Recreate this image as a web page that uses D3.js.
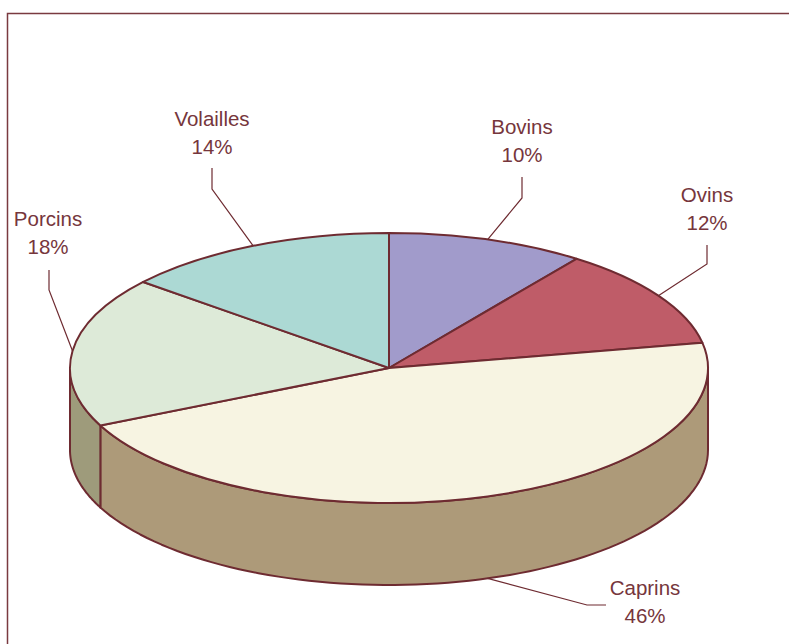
<!DOCTYPE html>
<html lang="fr">
<head>
    <meta charset="UTF-8">
    <title>Répartition du cheptel</title>
    <script src="https://d3js.org/d3.v7.min.js"></script>
    <style>
        body { margin: 0; background: #fff; }
        text { font-family: "Liberation Sans", Arial, sans-serif; font-size: 20.5px; fill: #76363c; }
    </style>
</head>
<body>
    <svg width="789" height="644"></svg>

    <script>
        // data, clockwise from 12 o'clock
        const categories = ["Bovins", "Ovins", "Caprins", "Porcins", "Volailles"];
        const shares = [10, 12, 46, 18, 14];
        const topColors = ["#a19bcb", "#bf5c68", "#f7f4e2", "#ddead8", "#acd9d4"];
        const sideColors = ["#7f7aa3", "#94434d", "#ad9a79", "#9e9b7b", "#86aaa6"];

        // label layout (text centre x, first baseline y, elbow of leader)
        const labelPos = [
            { x: 522, y: 134, elbow: [522, 198], end: [522, 177] },
            { x: 707, y: 202, elbow: [707, 264], end: [707, 245] },
            { x: 645, y: 595, elbow: [587, 605], end: [606, 605] },
            { x: 48,  y: 226, elbow: [49, 290],  end: [49, 270] },
            { x: 212, y: 126, elbow: [212, 189], end: [212, 168] }
        ];

        const svg = d3.select("svg");
        const edge = "#6e2b31";
        const cx = 389, cy = 368, rx = 319, ry = 135, depth = 82;

        // frame
        svg.append("rect")
            .attr("x", 7.5).attr("y", 13.5)
            .attr("width", 800).attr("height", 700)
            .attr("fill", "none")
            .attr("stroke", "#7a3a40")
            .attr("stroke-width", 1.5);

        const pie = d3.pie().sort(null).value(d => d)(shares);
        const ex = a => cx + rx * Math.sin(a);
        const ey = a => cy - ry * Math.cos(a);

        // side walls (only the front half is visible)
        const sides = svg.append("g");
        pie.forEach((p, i) => {
            const a0 = Math.max(p.startAngle, Math.PI / 2);
            const a1 = Math.min(p.endAngle, 3 * Math.PI / 2);
            if (a1 <= a0) return;
            const n = 80;
            const angles = d3.range(n + 1).map(k => a0 + (a1 - a0) * k / n);
            const pts = angles.map(a => [ex(a), ey(a)])
                .concat(angles.slice().reverse().map(a => [ex(a), ey(a) + depth]));
            sides.append("path")
                .attr("d", d3.line()(pts) + "Z")
                .attr("fill", sideColors[i])
                .attr("stroke", edge)
                .attr("stroke-width", 2)
                .attr("stroke-linejoin", "round");
        });

        // top face: circle arcs squashed into an ellipse
        const arc = d3.arc().innerRadius(0).outerRadius(rx);
        svg.append("g")
            .attr("transform", `translate(${cx},${cy}) scale(1,${ry / rx})`)
            .selectAll("path")
            .data(pie)
            .join("path")
            .attr("d", arc)
            .attr("fill", (d, i) => topColors[i])
            .attr("stroke", edge)
            .attr("stroke-width", 2)
            .attr("stroke-linejoin", "round")
            .attr("vector-effect", "non-scaling-stroke");

        // leader lines
        pie.forEach((p, i) => {
            const mid = (p.startAngle + p.endAngle) / 2;
            let anchor = [ex(mid), ey(mid)];
            if (Math.cos(mid) < 0) anchor[1] += depth;
            const lp = labelPos[i];
            svg.append("polyline")
                .attr("points", [anchor, lp.elbow, lp.end].map(q => q.join(",")).join(" "))
                .attr("fill", "none")
                .attr("stroke", edge)
                .attr("stroke-width", 1.2);
        });

        // labels
        const labels = svg.append("g").selectAll("text")
            .data(pie)
            .join("text")
            .attr("text-anchor", "middle")
            .attr("x", (d, i) => labelPos[i].x)
            .attr("y", (d, i) => labelPos[i].y);
        labels.append("tspan").text((d, i) => categories[i]);
        labels.append("tspan")
            .attr("x", (d, i) => labelPos[i].x)
            .attr("dy", 28)
            .text(d => d.data + "%");
    </script>
</body>
</html>
